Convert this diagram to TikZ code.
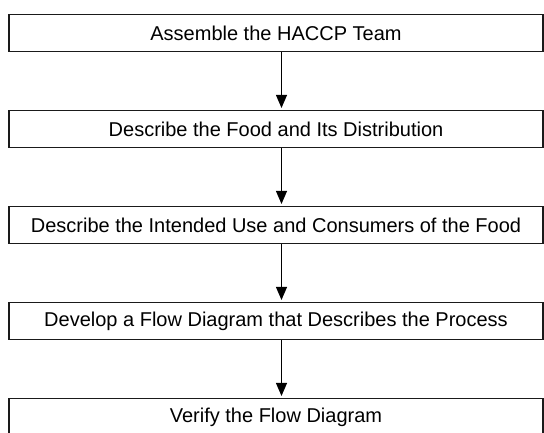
\documentclass[tikz,border=0pt]{standalone}
\usepackage{fontspec}
\setmainfont{Liberation Sans}
\usetikzlibrary{arrows.meta}
\definecolor{boxline}{HTML}{1A1A1A}
\tikzset{
  stepbox/.style={draw=boxline, line width=1.1pt, fill=white, inner sep=0pt, minimum width=534pt, minimum height=37pt, font=\fontsize{20}{24}\selectfont},
  flow/.style={-{Triangle[length=13pt,width=11pt]}, draw=black, line width=1pt, shorten >=2pt},
}

\begin{document}
\begin{tikzpicture}[x=1pt,y=1pt]
  \useasboundingbox (0,0) rectangle (544,433);
  \node[stepbox] (team) at (276,400) {Assemble the HACCP Team};
  \node[stepbox] (food) at (276,304) {Describe the Food and Its Distribution};
  \node[stepbox] (use) at (276,208) {Describe the Intended Use and Consumers of the Food};
  \node[stepbox] (develop) at (276,112) {Develop a Flow Diagram that Describes the Process};
  \node[stepbox] (verify) at (276,16) {Verify the Flow Diagram};
  \draw[flow] ([xshift=5.5pt]team.south) -- ([xshift=5.5pt]food.north);
  \draw[flow] ([xshift=5.5pt]food.south) -- ([xshift=5.5pt]use.north);
  \draw[flow] ([xshift=5.5pt]use.south) -- ([xshift=5.5pt]develop.north);
  \draw[flow] ([xshift=5.5pt]develop.south) -- ([xshift=5.5pt]verify.north);
\end{tikzpicture}
\end{document}
